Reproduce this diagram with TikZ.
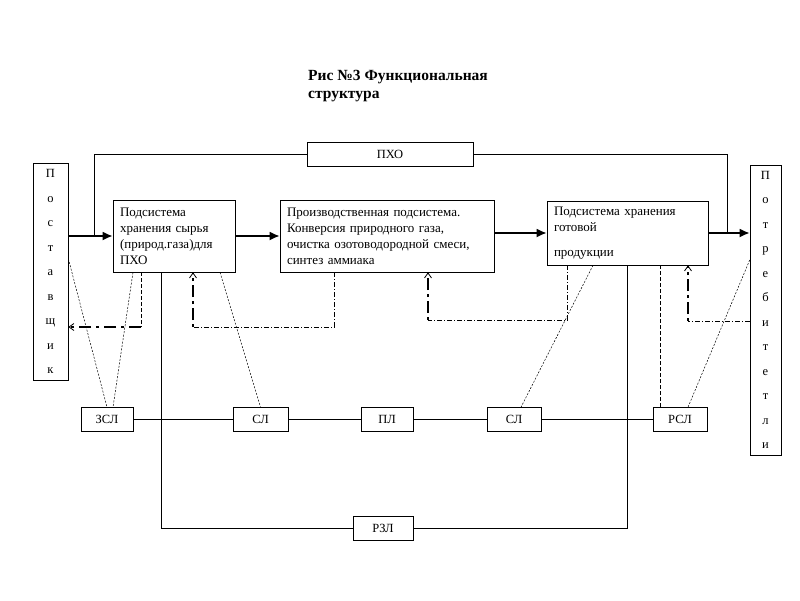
\documentclass[tikz,border=0pt]{standalone}
\usepackage{fontspec}
\setmainfont{Liberation Serif}
\usetikzlibrary{arrows.meta}

\begin{document}
\begin{tikzpicture}[x=1pt,y=1pt,
        blk/.style={draw,rectangle,line width=0.6pt,inner xsep=7pt,align=left,font=\fontsize{13}{16}\selectfont},
        lbl/.style={draw,rectangle,line width=0.6pt,inner sep=0pt,minimum height=24pt,font=\fontsize{12.5}{14}\selectfont},
        col/.style={draw,rectangle,line width=0.6pt,inner sep=0pt,align=center,font=\fontsize{12.5}{24.5}\selectfont},
        ln/.style={line width=0.6pt},
        main/.style={line width=1.8pt,-{Latex[length=10pt,width=9pt]}},
        dtl/.style={line width=0.5pt,dash pattern=on 2pt off 1.5pt},
        lng/.style={line width=0.5pt,dash pattern=on 4pt off 2pt},
        dd/.style={line width=0.5pt,dash pattern=on 5pt off 2pt on 1pt off 2pt},
        fb/.style={line width=1.5pt,dash pattern=on 3pt off 4pt on 12pt off 4pt,-{Straight Barb[length=5pt,width=7pt,line width=0.8pt]}},
        fbl/.style={line width=1.3pt,dash pattern=on 12pt off 5pt on 3pt off 5pt,-{Straight Barb[length=5pt,width=7pt,line width=0.8pt]}}]
        \useasboundingbox (0,0) rectangle (800,-600);

        \node[anchor=north west,align=left,inner sep=0pt,font=\bfseries\fontsize{15.5}{18}\selectfont] (T) at (308,-70) {Рис №3 Функциональная\\структура};

        \node[col,minimum width=35pt,minimum height=217pt] (PS) at (50.5,-271.5) {П\\о\\с\\т\\а\\в\\щ\\и\\к};
        \node[col,minimum width=31pt,minimum height=290pt] (PT) at (765.5,-310) {П\\о\\т\\р\\е\\б\\и\\т\\е\\т\\л\\и};

        \node[blk,text width=108pt,minimum height=72pt] (HS) at (174,-236) {Подсистема\\хранения сырья\\(природ.газа)для\\ПХО};
        \node[blk,text width=200pt,minimum height=72pt] (PR) at (387,-236) {Производственная подсистема.\\Конверсия природного газа,\\очистка озотоводородной смеси,\\синтез аммиака};
        \node[blk,text width=147pt,minimum height=64pt] (HG) at (627.5,-233) {Подсистема хранения\\готовой\\[9pt]продукции};

        \node[lbl,minimum width=166pt] (PHO) at (390,-154.5) {ПХО};
        \node[lbl,minimum width=52pt] (ZSL) at (107,-419.5) {ЗСЛ};
        \node[lbl,minimum width=55pt] (SL1) at (260.5,-419.5) {СЛ};
        \node[lbl,minimum width=52pt] (PL) at (387,-419.5) {ПЛ};
        \node[lbl,minimum width=54pt] (SL2) at (514,-419.5) {СЛ};
        \node[lbl,minimum width=54pt] (RSL) at (680,-419.5) {РСЛ};
        \node[lbl,minimum width=60pt] (RZL) at (383,-528) {РЗЛ};

        \draw[main] (PS.east |- HS.west) -- (HS.west);
        \draw[main] (HS.east) -- (HS.east -| PR.west);
        \draw[main] (PR.east |- HG.west) -- (HG.west);
        \draw[main] (HG.east) -- (HG.east -| PT.west);

        \coordinate (FL) at (94,-236);
        \coordinate (FR) at (727,-233);
        \draw[ln] (PHO.west) -| (FL);
        \draw[ln] (PHO.east) -| (FR);

        \draw[ln] (ZSL) -- (SL1) -- (PL) -- (SL2) -- (RSL);
        \draw[ln] ([xshift=-13pt]HS.south) |- (RZL.west);
        \draw[ln] (RZL.east) -| (HG.south);

        \draw[dtl] ([yshift=13pt]PS.east) -- (ZSL.north);
        \draw[dtl] ([xshift=-41pt]HS.south) -- ([xshift=6pt]ZSL.north);
        \draw[dtl] ([xshift=46pt]HS.south) -- (SL1.north);
        \draw[dtl] ([xshift=-34.5pt]HG.south) -- ([xshift=7pt]SL2.north);
        \draw[lng] ([xshift=32.5pt]HG.south) -- ([xshift=-20pt]RSL.north);
        \draw[dtl] ([yshift=50pt]PT.west) -- ([xshift=8pt]RSL.north);

        \coordinate (F1) at (141,-327);
        \coordinate (F2) at (193,-327);
        \coordinate (F3) at (428,-320);
        \coordinate (F4) at (688,-321);
        \draw[lng] ([xshift=-33pt]HS.south) -- (F1);
        \draw[fbl] (F1) -- (F1 -| PS.east);
        \draw[dd] ([xshift=-53pt]PR.south) |- (F2);
        \draw[fb] (F2) -- (F2 |- HS.south);
        \draw[dd] ([xshift=-60.5pt]HG.south) |- (F3);
        \draw[fb] (F3) -- (F3 |- PR.south);
        \draw[dd] (F4 -| PT.west) -- (F4);
        \draw[fb] (F4) -- (F4 |- HG.south);
    \end{tikzpicture}
\end{document}
